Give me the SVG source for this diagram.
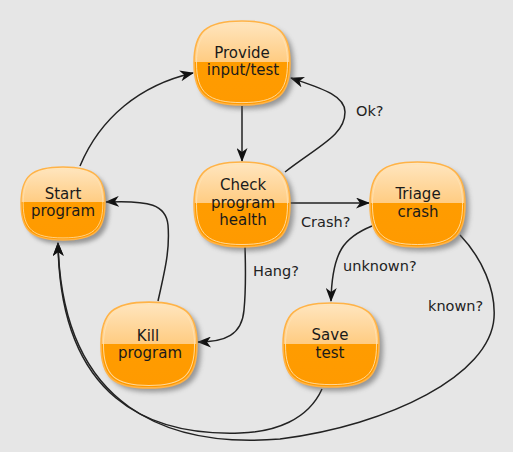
<svg xmlns="http://www.w3.org/2000/svg" width="513" height="452" viewBox="0 0 513 452">
<defs>
<linearGradient id="nodeFill" x1="0" y1="0" x2="0" y2="1">
<stop offset="0" stop-color="#ffe6c0"/>
<stop offset="0.485" stop-color="#ffcc82"/>
<stop offset="0.485" stop-color="#ff9c00"/>
<stop offset="1" stop-color="#ff9a00"/>
</linearGradient>
<filter id="shadow" x="-20%" y="-20%" width="150%" height="150%">
<feGaussianBlur stdDeviation="2.5"/>
</filter>
<marker id="arrow" markerUnits="userSpaceOnUse" markerWidth="14" markerHeight="11" viewBox="0 0 14 11" refX="13" refY="5.5" orient="auto">
<path d="M0,0 L14,5.5 L0,11 L4,5.5 z" fill="#111"/>
</marker>
<path id="shape" d="M0,-42.5 C36,-42.5 48,-31.9 48,0 C48,31.9 36,42.5 0,42.5 C-36,42.5 -48,31.9 -48,0 C-48,-31.9 -36,-42.5 0,-42.5 Z"/>
<path id="ringShape" d="M0,-40 C34.1,-40 45.5,-30 45.5,0 C45.5,30 34.1,40 0,40 C-34.1,40 -45.5,30 -45.5,0 C-45.5,-30 -34.1,-40 0,-40 Z"/>
<style>
.sh{fill:#555;opacity:0.55;filter:url(#shadow)}
.body{fill:url(#nodeFill);stroke:#ffb347;stroke-width:1.6}
.ring{fill:none;stroke:#ffe3b3;stroke-width:1;opacity:0.85}
.nt{font-family:"DejaVu Sans",Verdana,sans-serif;font-size:15px;fill:#1a1a1a;text-anchor:middle}
.lbl{font-family:"DejaVu Sans",Verdana,sans-serif;font-size:14.5px;fill:#222}
.edge{fill:none;stroke:#222;stroke-width:1.5;marker-end:url(#arrow)}
</style>
</defs>
<rect width="513" height="452" fill="#e6e6e6"/>

<g id="connectors">
<path class="edge" d="M80,166 C100,118 140,85 193,73"/>
<path class="edge" d="M242,106 L242,161"/>
<path class="edge" d="M285,172 C320,145 345,135 345,112 C345,95 320,88 291,78"/>
<path class="edge" d="M290,203 L369,203"/>
<path class="edge" d="M245,247 C246,280 245,300 244,310 C242,335 225,342 198,342"/>
<path class="edge" d="M158,301 C165,270 170,250 168,225 C166,205 150,200 106,202"/>
<path class="edge" d="M372,226 C345,237 332,250 331,301"/>
<path class="edge" d="M322,389 C308,420 275,432 240,433 C150,436 60,400 58,243"/>
<path class="edge" d="M460,235 C482,258 496,290 494,318 C490,375 390,425 280,439 C170,448 62,410 58,243"/>
<text class="lbl" x="356" y="116">Ok?</text>
<text class="lbl" x="301" y="227">Crash?</text>
<text class="lbl" x="253" y="276">Hang?</text>
<text class="lbl" x="343" y="271">unknown?</text>
<text class="lbl" x="428" y="311">known?</text>
</g>

<g id="provide">
<use href="#shape" class="sh" transform="translate(246,67) scale(1,0.99)"/>
<use href="#shape" class="body" transform="translate(242,63) scale(1,0.99)"/>
<use href="#ringShape" class="ring" transform="translate(242,63) scale(1,0.99)"/>
<text class="nt" x="242" y="58">Provide</text>
<text class="nt" x="243" y="75">input/test</text>
</g>

<g id="start">
<use href="#shape" class="sh" transform="translate(67,207.5) scale(0.875,0.86)"/>
<use href="#shape" class="body" transform="translate(63,203.5) scale(0.875,0.86)"/>
<use href="#ringShape" class="ring" transform="translate(63,203.5) scale(0.875,0.86)"/>
<text class="nt" x="63" y="199">Start</text>
<text class="nt" x="63" y="216">program</text>
</g>

<g id="check">
<use href="#shape" class="sh" transform="translate(246,208.5)"/>
<use href="#shape" class="body" transform="translate(242,204.5)"/>
<use href="#ringShape" class="ring" transform="translate(242,204.5)"/>
<text class="nt" x="243" y="190">Check</text>
<text class="nt" x="243" y="208">program</text>
<text class="nt" x="243" y="225">health</text>
</g>

<g id="triage">
<use href="#shape" class="sh" transform="translate(421.5,208.5) scale(0.99,1)"/>
<use href="#shape" class="body" transform="translate(417.5,204.5) scale(0.99,1)"/>
<use href="#ringShape" class="ring" transform="translate(417.5,204.5) scale(0.99,1)"/>
<text class="nt" x="418" y="199">Triage</text>
<text class="nt" x="418" y="217">crash</text>
</g>

<g id="kill">
<use href="#shape" class="sh" transform="translate(153,349) scale(1,1.01)"/>
<use href="#shape" class="body" transform="translate(149,345) scale(1,1.01)"/>
<use href="#ringShape" class="ring" transform="translate(149,345) scale(1,1.01)"/>
<text class="nt" x="148" y="341">Kill</text>
<text class="nt" x="150" y="358">program</text>
</g>

<g id="save">
<use href="#shape" class="sh" transform="translate(335,349) scale(1,0.99)"/>
<use href="#shape" class="body" transform="translate(331,345) scale(1,0.99)"/>
<use href="#ringShape" class="ring" transform="translate(331,345) scale(1,0.99)"/>
<text class="nt" x="330" y="340">Save</text>
<text class="nt" x="330" y="358">test</text>
</g>
</svg>
